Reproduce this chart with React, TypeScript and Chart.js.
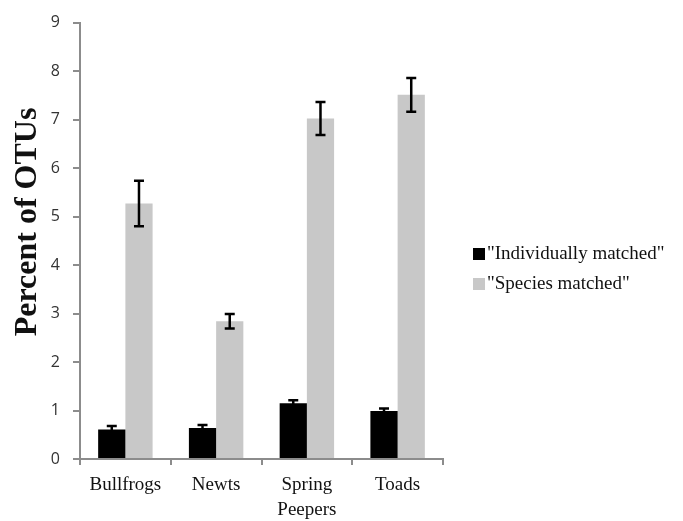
import React, { useEffect, useRef } from "react";
import { Chart, registerables } from "chart.js";

Chart.register(...registerables);

const categories: (string | string[])[] = ["Bullfrogs", "Newts", ["Spring", "Peepers"], "Toads"];
const seriesNames = ['"Individually matched"', '"Species matched"'];
const individuallyMatched = [0.61, 0.64, 1.15, 0.99];
const individuallyErr = [0.07, 0.06, 0.06, 0.05];
const speciesMatched = [5.27, 2.84, 7.02, 7.51];
const speciesErr = [0.47, 0.15, 0.34, 0.35];
const yAxisTitle = "Percent of OTUs";
const yMin = 0;
const yMax = 9;
const yStep = 1;

const AXIS_COLOR = "#8c8c8c";
const BLACK = "#000000";
const GRAY = "#c8c8c8";

const errorBarPlugin = {
  id: "errorBars",
  afterDatasetsDraw(chart: any) {
    const ctx = chart.ctx;
    const yScale = chart.scales.y;
    chart.data.datasets.forEach((ds: any, i: number) => {
      const meta = chart.getDatasetMeta(i);
      const errs: number[] = ds.errors || [];
      meta.data.forEach((el: any, j: number) => {
        const v = ds.data[j];
        const e = errs[j];
        if (e == null) return;
        const x = el.x;
        const yHi = yScale.getPixelForValue(v + e);
        const yLo = yScale.getPixelForValue(v - e);
        const cap = 5;
        ctx.save();
        ctx.strokeStyle = "#000";
        ctx.lineWidth = 2.5;
        ctx.beginPath();
        ctx.moveTo(x, yHi);
        ctx.lineTo(x, yLo);
        ctx.moveTo(x - cap, yHi);
        ctx.lineTo(x + cap, yHi);
        ctx.moveTo(x - cap, yLo);
        ctx.lineTo(x + cap, yLo);
        ctx.stroke();
        ctx.restore();
      });
    });
  },
};

const customLegendPlugin = {
  id: "customLegend",
  afterDraw(chart: any) {
    const ctx = chart.ctx;
    const area = chart.chartArea;
    const boxX = area.right + 30;
    const textX = boxX + 14;
    const startY = 254;
    const gap = 30;
    ctx.save();
    ctx.font = '19px "Liberation Serif", "Times New Roman", serif';
    ctx.textBaseline = "middle";
    ctx.textAlign = "left";
    chart.data.datasets.forEach((ds: any, i: number) => {
      const cy = startY + i * gap;
      ctx.fillStyle = ds.backgroundColor;
      ctx.fillRect(boxX, cy - 6, 12, 12);
      ctx.fillStyle = "#111";
      ctx.fillText(ds.label, textX, cy);
    });
    ctx.restore();
  },
};

const yTitlePlugin = {
  id: "yTitle",
  afterDraw(chart: any) {
    const ctx = chart.ctx;
    ctx.save();
    ctx.translate(28, 222);
    ctx.rotate(-Math.PI / 2);
    ctx.font = 'bold 32px "Liberation Serif", "Times New Roman", serif';
    ctx.fillStyle = "#111";
    ctx.textAlign = "center";
    ctx.textBaseline = "middle";
    ctx.fillText(yAxisTitle, 0, 0);
    ctx.restore();
  },
};

export default function App() {
  const canvasRef = useRef<HTMLCanvasElement | null>(null);

  useEffect(() => {
    if (!canvasRef.current) return;
    const chart = new Chart(canvasRef.current, {
      type: "bar",
      data: {
        labels: categories as any,
        datasets: [
          {
            label: seriesNames[0],
            data: individuallyMatched,
            errors: individuallyErr,
            backgroundColor: BLACK,
            borderWidth: 0,
            barPercentage: 1,
            categoryPercentage: 0.6,
          } as any,
          {
            label: seriesNames[1],
            data: speciesMatched,
            errors: speciesErr,
            backgroundColor: GRAY,
            borderWidth: 0,
            barPercentage: 1,
            categoryPercentage: 0.6,
          } as any,
        ],
      },
      options: {
        responsive: false,
        animation: false,
        layout: { padding: { top: 21, right: 240, left: 0, bottom: 0 } },
        plugins: {
          legend: { display: false },
          tooltip: { enabled: false },
          title: { display: false },
        },
        scales: {
          x: {
            grid: {
              offset: true,
              drawOnChartArea: false,
              drawTicks: true,
              tickLength: 6,
              color: AXIS_COLOR,
              lineWidth: 2,
            },
            border: { color: AXIS_COLOR, width: 2 },
            ticks: {
              color: "#111",
              padding: 8,
              maxRotation: 0,
              autoSkip: false,
              font: { family: '"Liberation Serif", "Times New Roman", serif', size: 19, lineHeight: 1.3 },
            },
            afterFit(scale: any) {
              scale.height = 62;
            },
          },
          y: {
            min: yMin,
            max: yMax,
            grid: {
              drawOnChartArea: false,
              drawTicks: true,
              tickLength: 7,
              color: AXIS_COLOR,
              lineWidth: 2,
            },
            border: { color: AXIS_COLOR, width: 2 },
            ticks: {
              stepSize: yStep,
              color: "#333",
              padding: 13,
              font: { family: '"Open Sans", sans-serif', size: 16 },
            },
            afterFit(scale: any) {
              scale.width = 80;
            },
          },
        },
      } as any,
      plugins: [errorBarPlugin, customLegendPlugin, yTitlePlugin],
    });
    return () => chart.destroy();
  }, []);

  return (
    <div style={{ position: "absolute", left: 0, top: 0, width: 683, height: 521, background: "#fff" }}>
      <canvas ref={canvasRef} width={683} height={521} />
    </div>
  );
}
